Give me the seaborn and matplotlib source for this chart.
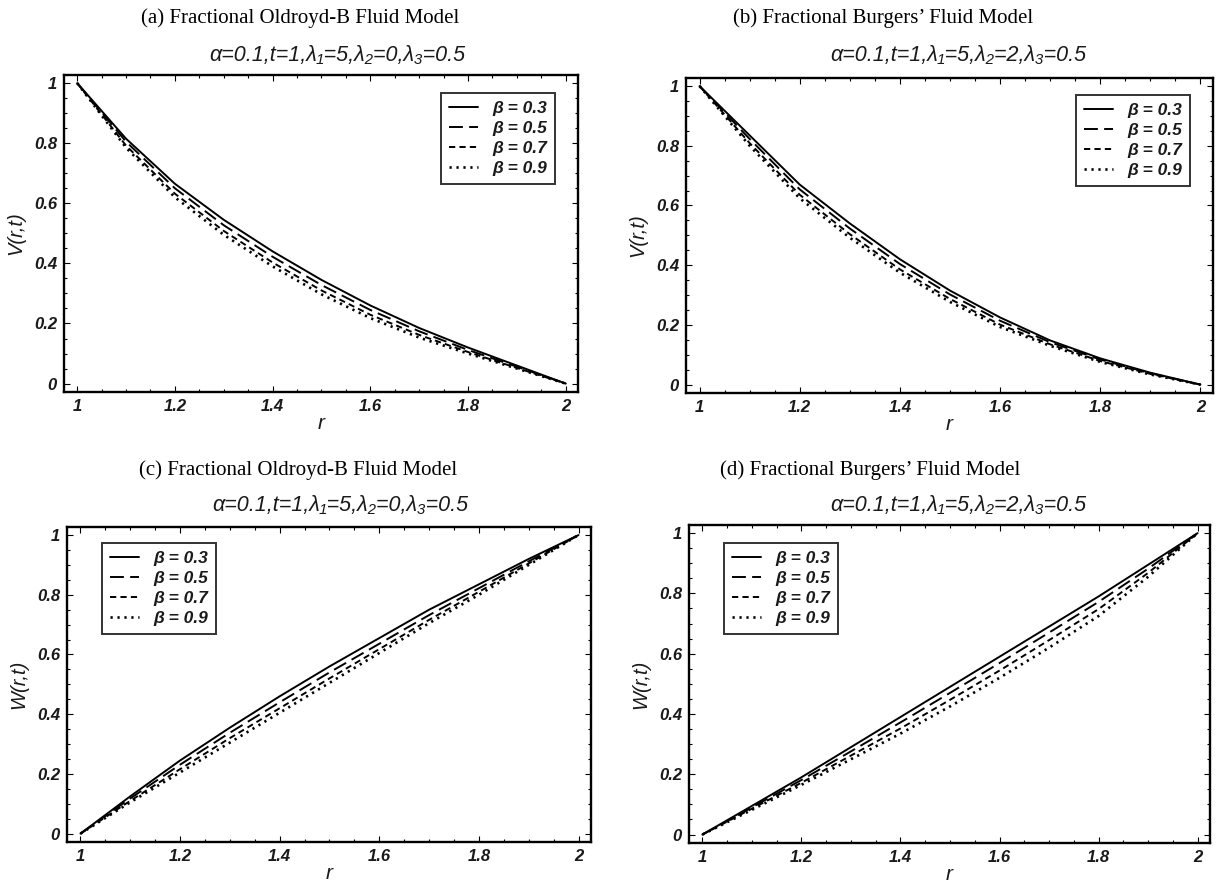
import matplotlib
matplotlib.use("Agg")
import matplotlib.pyplot as plt
import seaborn as sns
import pandas as pd
from matplotlib.ticker import MultipleLocator, FuncFormatter
from matplotlib.font_manager import FontProperties

sns.set_theme(style="white")
plt.rcParams["font.family"] = ["Liberation Sans", "DejaVu Sans"]
plt.rcParams["lines.scale_dashes"] = False

# ---------------- data ----------------
r = [1.0, 1.1, 1.2, 1.3, 1.4, 1.5, 1.6, 1.7, 1.8, 1.9, 2.0]
betas = ["0.3", "0.5", "0.7", "0.9"]

# (a) V(r,t), fractional Oldroyd-B
va_03 = [1.000, 0.815, 0.665, 0.545, 0.440, 0.345, 0.260, 0.185, 0.120, 0.060, 0.000]
va_05 = [1.000, 0.805, 0.650, 0.527, 0.422, 0.328, 0.245, 0.174, 0.112, 0.056, 0.000]
va_07 = [1.000, 0.792, 0.632, 0.508, 0.403, 0.310, 0.229, 0.162, 0.105, 0.052, 0.000]
va_09 = [1.000, 0.785, 0.620, 0.495, 0.390, 0.297, 0.218, 0.153, 0.100, 0.050, 0.000]

# (b) V(r,t), fractional Burgers
vb_03 = [1.000, 0.835, 0.670, 0.540, 0.420, 0.315, 0.225, 0.148, 0.088, 0.040, 0.000]
vb_05 = [1.000, 0.823, 0.654, 0.523, 0.404, 0.302, 0.214, 0.142, 0.084, 0.038, 0.000]
vb_07 = [1.000, 0.809, 0.636, 0.504, 0.386, 0.287, 0.201, 0.135, 0.079, 0.036, 0.000]
vb_09 = [1.000, 0.800, 0.624, 0.492, 0.375, 0.277, 0.193, 0.130, 0.076, 0.034, 0.000]

# (c) W(r,t), fractional Oldroyd-B
wc_03 = [0.000, 0.125, 0.245, 0.355, 0.460, 0.560, 0.655, 0.750, 0.835, 0.920, 1.000]
wc_05 = [0.000, 0.118, 0.231, 0.338, 0.440, 0.540, 0.636, 0.732, 0.822, 0.912, 1.000]
wc_07 = [0.000, 0.110, 0.216, 0.320, 0.420, 0.520, 0.618, 0.716, 0.810, 0.905, 1.000]
wc_09 = [0.000, 0.105, 0.205, 0.305, 0.405, 0.505, 0.605, 0.705, 0.800, 0.900, 1.000]

# (d) W(r,t), fractional Burgers
wd_03 = [0.000, 0.095, 0.190, 0.290, 0.390, 0.490, 0.590, 0.690, 0.790, 0.895, 1.000]
wd_05 = [0.000, 0.090, 0.181, 0.276, 0.372, 0.470, 0.569, 0.670, 0.772, 0.882, 1.000]
wd_07 = [0.000, 0.086, 0.172, 0.262, 0.352, 0.447, 0.544, 0.645, 0.748, 0.868, 1.000]
wd_09 = [0.000, 0.082, 0.165, 0.250, 0.335, 0.425, 0.520, 0.620, 0.725, 0.855, 1.000]

titles = ["(a) Fractional Oldroyd-B Fluid Model",
          "(b) Fractional Burgers\u2019 Fluid Model",
          "(c) Fractional Oldroyd-B Fluid Model",
          "(d) Fractional Burgers\u2019 Fluid Model"]
subtitles = ["\u03b1=0.1,t=1,\u03bb\u2081=5,\u03bb\u2082=0,\u03bb\u2083=0.5",
             "\u03b1=0.1,t=1,\u03bb\u2081=5,\u03bb\u2082=2,\u03bb\u2083=0.5",
             "\u03b1=0.1,t=1,\u03bb\u2081=5,\u03bb\u2082=0,\u03bb\u2083=0.5",
             "\u03b1=0.1,t=1,\u03bb\u2081=5,\u03bb\u2082=2,\u03bb\u2083=0.5"]
ylabels = ["V(r,t)", "V(r,t)", "W(r,t)", "W(r,t)"]

series = [[va_03, va_05, va_07, va_09],
          [vb_03, vb_05, vb_07, vb_09],
          [wc_03, wc_05, wc_07, wc_09],
          [wd_03, wd_05, wd_07, wd_09]]

# ---------------- layout / style ----------------
W, H = 1217, 884
fig = plt.figure(figsize=(W / 100, H / 100), dpi=100)
fig.patch.set_facecolor("white")

# axes boxes in pixels: (left, top, right, bottom)
boxes = [(64, 75, 578, 392), (686, 78, 1213, 393),
         (67, 527, 591, 842), (689, 525, 1210, 843)]
title_pos = [(300, 18), (883, 18), (298, 470), (870, 470)]
sub_pos = [(337, 55), (958, 55), (340, 506), (958, 506)]
leg_loc = ["upper right", "upper right", "upper left", "upper left"]
leg_anchor = [(0.955, 0.943), (0.956, 0.946), (0.067, 0.949), (0.067, 0.943)]

styles = [dict(linestyle="-", linewidth=1.4),
          dict(linestyle=(0, (10, 4.5)), linewidth=1.4),
          dict(linestyle=(0, (4.5, 3)), linewidth=1.4),
          dict(linestyle=(0, (1.6, 3.4)), linewidth=1.9)]

tick_font = FontProperties(family="Liberation Sans", weight="bold", style="italic", size=12)
leg_font = FontProperties(family="Liberation Sans", weight="bold", style="italic", size=12.5)
fmt = FuncFormatter(lambda v, p: "%g" % round(v, 3))

for i in range(4):
    l, t, rr, b = boxes[i]
    ax = fig.add_axes([l / W, 1 - b / H, (rr - l) / W, (b - t) / H])
    ax.set_facecolor("white")
    for j, beta in enumerate(betas):
        df = pd.DataFrame({"r": r, "val": series[i][j]})
        sns.lineplot(data=df, x="r", y="val", ax=ax, color="black",
                     label="\u03b2 = " + beta, **styles[j])
    ax.set_xlim(0.973, 2.025)
    ax.set_ylim(-0.028, 1.027)
    ax.xaxis.set_major_locator(MultipleLocator(0.2))
    ax.xaxis.set_minor_locator(MultipleLocator(0.05))
    ax.yaxis.set_major_locator(MultipleLocator(0.2))
    ax.yaxis.set_minor_locator(MultipleLocator(0.05))
    ax.xaxis.set_major_formatter(fmt)
    ax.yaxis.set_major_formatter(fmt)
    ax.tick_params(which="both", direction="in", top=True, right=True,
                   bottom=True, left=True, color="black", width=0.8)
    ax.tick_params(which="major", length=4.5, pad=5)
    ax.tick_params(which="minor", length=2.5)
    for lab in ax.get_xticklabels() + ax.get_yticklabels():
        lab.set_fontproperties(tick_font)
        lab.set_color("#1a1a1a")
    for sp in ax.spines.values():
        sp.set_visible(True)
        sp.set_color("black")
        sp.set_linewidth(1.7)
    ax.set_xlabel("r", fontsize=15, style="italic", color="#1a1a1a", labelpad=0)
    ax.set_ylabel(ylabels[i], fontsize=14.5, style="italic", color="#1a1a1a", labelpad=6)
    leg = ax.legend(loc=leg_loc[i], bbox_to_anchor=leg_anchor[i], borderaxespad=0,
                    prop=leg_font, frameon=True, fancybox=False, framealpha=1,
                    edgecolor="#333333", handlelength=1.7, handletextpad=0.8,
                    labelspacing=0.28, borderpad=0.45)
    leg.get_frame().set_linewidth(1.4)
    for txt in leg.get_texts():
        txt.set_color("#1a1a1a")
    fig.text(title_pos[i][0] / W, 1 - title_pos[i][1] / H, titles[i],
             family="Liberation Serif", fontsize=15, ha="center", va="center", color="black")
    fig.text(sub_pos[i][0] / W, 1 - sub_pos[i][1] / H, subtitles[i],
             family=["Liberation Sans", "DejaVu Sans"], style="italic", fontsize=15.5,
             ha="center", va="center", color="#1a1a1a")

fig.savefig("out.png", dpi=100, facecolor="white")
